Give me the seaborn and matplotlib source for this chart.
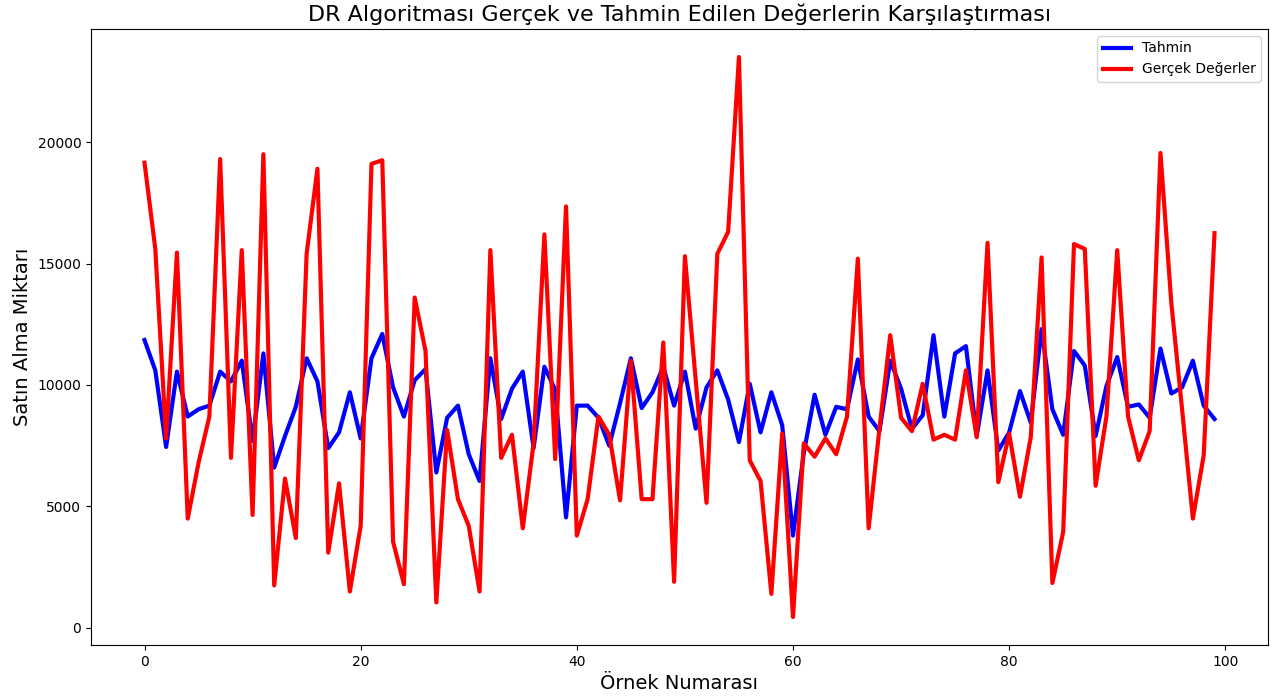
import matplotlib
matplotlib.use("Agg")
import matplotlib.pyplot as plt
import seaborn as sns
import numpy as np
import pandas as pd

predicted = [11850, 10600, 7450, 10550, 8700, 9000, 9150, 10550, 10150, 11000,
             7700, 11300, 6600, 7900, 9100, 11100, 10150, 7400, 8050, 9700,
             7800, 11100, 12100, 9900, 8700, 10200, 10650, 6400, 8650, 9150,
             7150, 6050, 11100, 8600, 9850, 10550, 7400, 10750, 9800, 4550,
             9150, 9150, 8650, 7500, 9250, 11100, 9050, 9700, 10750, 9150,
             10550, 8200, 9900, 10600, 9400, 7650, 10050, 8050, 9700, 8350,
             3800, 7200, 9600, 7950, 9100, 9000, 11050, 8700, 8100, 11000,
             9850, 8200, 8750, 12050, 8700, 11300, 11600, 7900, 10600, 7300,
             8050, 9750, 8450, 12300, 9000, 7950, 11400, 10800, 7900, 9950,
             11150, 9100, 9200, 8650, 11500, 9650, 9900, 11000, 9150, 8600]

actual = [19150, 15600, 7800, 15450, 4500, 6800, 8700, 19300, 7000, 15550,
          4650, 19500, 1750, 6150, 3700, 15400, 18900, 3100, 5950, 1500,
          4200, 19100, 19250, 3550, 1800, 13600, 11400, 1050, 8150, 5300,
          4200, 1500, 15550, 7000, 7950, 4100, 7600, 16200, 6950, 17350,
          3800, 5300, 8700, 7950, 5250, 11000, 5300, 5300, 11750, 1900,
          15300, 10200, 5150, 15400, 16300, 23500, 6900, 6050, 1400, 8000,
          450, 7600, 7050, 7800, 7150, 8700, 15200, 4100, 8200, 12050,
          8650, 8100, 10050, 7750, 7950, 7750, 10600, 7850, 15850, 6000,
          8000, 5400, 7850, 15250, 1850, 3950, 15800, 15600, 5850, 8700,
          15550, 8700, 6900, 8100, 19550, 13400, 9000, 4500, 7100, 16250]

sample_index = list(range(len(actual)))

title = "DR Algoritması Gerçek ve Tahmin Edilen Değerlerin Karşılaştırması"
xlabel = "Örnek Numarası"
ylabel = "Satın Alma Miktarı"
label_pred = "Tahmin"
label_actual = "Gerçek Değerler"

fig = plt.figure(figsize=(12.72, 6.98), dpi=100)
ax = fig.add_axes([91/1272, 1 - 645/698, (1268 - 91)/1272, (645 - 29)/698])

sns.lineplot(x=sample_index, y=predicted, ax=ax, color="blue", linewidth=3, label=label_pred)
sns.lineplot(x=sample_index, y=actual, ax=ax, color="red", linewidth=3, label=label_actual)

ax.set_title(title, fontsize=16)
ax.set_xlabel(xlabel, fontsize=14)
ax.set_ylabel(ylabel, fontsize=14)
ax.set_xticks([0, 20, 40, 60, 80, 100])
ax.set_yticks([0, 5000, 10000, 15000, 20000])
ax.legend(loc="upper right")

fig.savefig("out.png", dpi=100)
